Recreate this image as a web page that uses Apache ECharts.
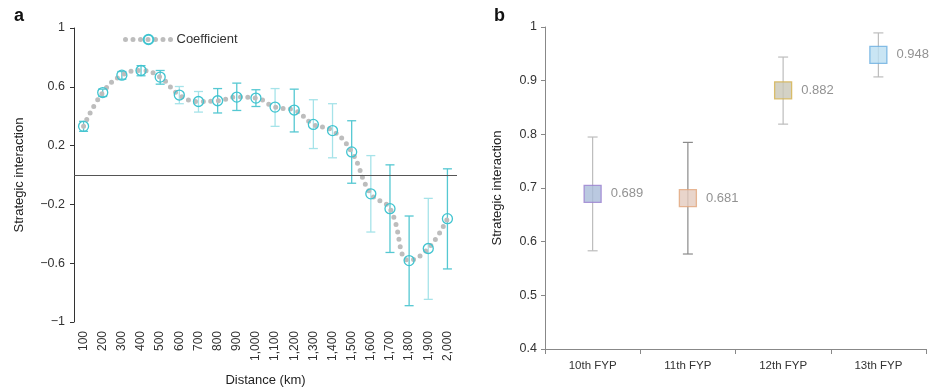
<!DOCTYPE html>
<html>
<head>
<meta charset="utf-8">
<script src="https://cdn.jsdelivr.net/npm/echarts@6/dist/echarts.min.js"></script>
<style>html,body{margin:0;padding:0;background:#fff}#c{width:941px;height:392px}</style>
</head>
<body>
<div id="c"></div>
<script>
// ---- Panel a data ----
const distances = [100,200,300,400,500,600,700,800,900,1000,1100,1200,1300,1400,1500,1600,1700,1800,1900,2000];
const coefficient = [0.331,0.561,0.679,0.711,0.666,0.544,0.500,0.505,0.530,0.523,0.462,0.442,0.344,0.302,0.157,-0.128,-0.229,-0.582,-0.500,-0.297];
const ciLower = [0.297,0.534,0.652,0.675,0.618,0.485,0.428,0.422,0.439,0.466,0.331,0.293,0.180,0.117,-0.056,-0.388,-0.527,-0.889,-0.846,-0.639];
const ciUpper = [0.365,0.584,0.704,0.744,0.711,0.602,0.568,0.588,0.625,0.580,0.588,0.584,0.512,0.485,0.369,0.132,0.069,-0.279,-0.159,0.042];
const barShade = [0,0,0,0,0,1,1,0,0,0,1,0,1,1,0,1,0,0,1,0]; // 0 = darker teal, 1 = lighter teal
const yTicksA = {min:-1, max:1, interval:0.4};

// ---- Panel b data ----
const plans = ['10th FYP','11th FYP','12th FYP','13th FYP'];
const planValue = [0.689,0.681,0.882,0.948];
const planLower = [0.583,0.577,0.819,0.907];
const planUpper = [0.795,0.785,0.944,0.989];
const yTicksB = {min:0.4, max:1, interval:0.1};

// styles
const tealDark = '#55c8d2', tealLight = '#a6e3e9';
const planFill = ['#a9bcd8','#e3cbbe','#c9c7b6','#bcdff1'];
const planBorder = ['#9a80cf','#e2a67c','#d4b24c','#6aaee0'];
const planWhisker = ['#bdbdbd','#8a8a8a','#bdbdbd','#bdbdbd'];
const FONT = '"Liberation Sans", Arial, sans-serif';

const chart = echarts.init(document.getElementById('c'), null, {renderer:'canvas'});

function errRender(lows, highs, colorFn, capHalf, width){
  return function(params, api){
    const i = params.dataIndex;
    const lo = api.coord([api.value(0), api.value(1)]);
    const hi = api.coord([api.value(0), api.value(2)]);
    const st = {stroke: colorFn(i), lineWidth: width, fill: null};
    return {type:'group', children:[
      {type:'line', shape:{x1:hi[0],y1:hi[1],x2:lo[0],y2:lo[1]}, style:st},
      {type:'line', shape:{x1:hi[0]-capHalf,y1:hi[1],x2:hi[0]+capHalf,y2:hi[1]}, style:st},
      {type:'line', shape:{x1:lo[0]-capHalf,y1:lo[1],x2:lo[0]+capHalf,y2:lo[1]}, style:st}
    ]};
  };
}

const dotLine = {color:'#bdbdbd', width:5, type:[0,7.5], cap:'round'};

const option = {
  animation:false,
  textStyle:{fontFamily:FONT},
  title:[
    {text:'a', left:9, top:2, textStyle:{fontSize:18, fontWeight:'bold', color:'#111', fontFamily:FONT}},
    {text:'b', left:489, top:2, textStyle:{fontSize:18, fontWeight:'bold', color:'#111', fontFamily:FONT}}
  ],
  legend:{
    data:['Coefficient'], left:118, top:28, itemWidth:46, itemHeight:12, itemGap:3,
    lineStyle:dotLine,
    textStyle:{fontSize:13, color:'#333', fontFamily:FONT}
  },
  grid:[
    {left:74, right:484, top:28, bottom:69},
    {left:545, right:15, top:27, bottom:43}
  ],
  xAxis:[
    {type:'category', gridIndex:0, data:distances.map(d=>d.toLocaleString('en-US')),
     boundaryGap:true, axisLine:{show:false}, axisTick:{show:false},
     axisLabel:{rotate:90, fontSize:12, color:'#333', margin:9, interval:0, fontFamily:FONT},
     name:'Distance (km)', nameLocation:'middle', nameGap:52,
     nameTextStyle:{fontSize:13, color:'#222', fontFamily:FONT}},
    {type:'category', gridIndex:1, data:plans, boundaryGap:true,
     axisLine:{lineStyle:{color:'#888', width:1}},
     axisTick:{show:true, length:5, lineStyle:{color:'#888'}},
     axisLabel:{fontSize:11.5, color:'#333', margin:11, fontFamily:FONT}}
  ],
  yAxis:[
    {type:'value', gridIndex:0, min:yTicksA.min, max:yTicksA.max, interval:yTicksA.interval,
     splitLine:{show:false},
     axisLine:{show:true, lineStyle:{color:'#333', width:1}},
     axisTick:{show:true, length:4, lineStyle:{color:'#333'}},
     axisLabel:{fontSize:12.5, color:'#333', margin:9, fontFamily:FONT,
       formatter:v=>String(+v.toFixed(1)).replace('-','\u2212')},
     name:'Strategic interaction', nameLocation:'middle', nameGap:48,
     nameTextStyle:{fontSize:13, color:'#222', fontFamily:FONT}},
    {type:'value', gridIndex:1, min:yTicksB.min, max:yTicksB.max, interval:yTicksB.interval,
     splitLine:{show:false},
     axisLine:{show:true, lineStyle:{color:'#888', width:1}},
     axisTick:{show:true, length:4, lineStyle:{color:'#888'}},
     axisLabel:{fontSize:12.5, color:'#333', margin:8, fontFamily:FONT,
       formatter:v=>String(+v.toFixed(1))},
     name:'Strategic interaction', nameLocation:'middle', nameGap:41,
     nameTextStyle:{fontSize:13, color:'#222', fontFamily:FONT}}
  ],
  series:[
    {
      type:'custom', xAxisIndex:0, yAxisIndex:0, z:2,
      data:distances.map((d,i)=>[i, ciLower[i], ciUpper[i]]),
      renderItem:errRender(ciLower, ciUpper, i=>barShade[i]?tealLight:tealDark, 4.5, 1.3),
      markLine:{silent:true, symbol:'none', label:{show:false},
        lineStyle:{color:'#555', width:1, type:'solid'}, data:[{yAxis:0}]}
    },
    {
      name:'Coefficient', type:'line', xAxisIndex:0, yAxisIndex:0, z:3,
      data:coefficient, smooth:0.45,
      symbol:'circle', symbolSize:10,
      itemStyle:{color:'rgba(255,255,255,0)', borderColor:'#3fc4d0', borderWidth:1.3},
      lineStyle:dotLine
    },
    {
      type:'custom', xAxisIndex:1, yAxisIndex:1, z:2,
      data:plans.map((p,i)=>[i, planLower[i], planUpper[i]]),
      renderItem:errRender(planLower, planUpper, i=>planWhisker[i], 5, 1.2)
    },
    {
      type:'scatter', xAxisIndex:1, yAxisIndex:1, z:3,
      symbol:'rect', symbolSize:17,
      data:planValue.map((v,i)=>({value:[i,v],
        itemStyle:{color:planFill[i], borderColor:planBorder[i], borderWidth:1.3}})),
      label:{show:true, position:'right', distance:9, fontSize:13, color:'#777', fontFamily:FONT,
        formatter:p=>p.value[1].toFixed(3)}
    }
  ]
};
chart.setOption(option);
</script>
</body>
</html>
